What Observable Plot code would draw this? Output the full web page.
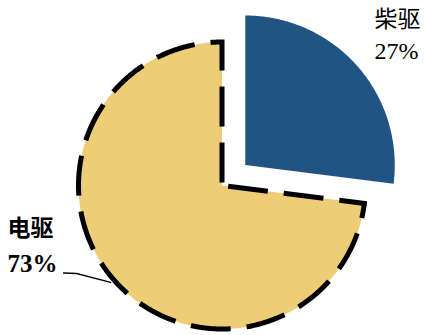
<!DOCTYPE html>
<html>
<head>
<meta charset="utf-8">
<script src="https://cdn.jsdelivr.net/npm/d3@7"></script>
<script src="https://cdn.jsdelivr.net/npm/@observablehq/plot@0.6"></script>
<style>
  html, body { margin: 0; padding: 0; background: #fff; }
  #chart svg { display: block; }
</style>
</head>
<body>
<div id="chart"></div>
<script>
// ---- data ----
const categories = ["柴驱", "电驱"];
const shares = [27, 73];
const pctLabels = ["27%", "73%"];
const colors = ["#215482", "#EDCD76"];

// ---- layout ----
const W = 424, H = 335;
const cx = 221.5, cy = 185;
const radii = [149.5, 143.5];
const explode = [31, 0];
const labelPos = [
  {x: 374, y1: 26.5, y2: 58.5, weight: "normal", anchor: "start"},
  {x: 7, y1: 235, y2: 271.5, weight: "bold", anchor: "start"}
];
const font = "'Liberation Serif', 'Times New Roman', 'Noto Sans CJK SC', serif";

const arcs = d3.pie().sort(null).value(d => d)(shares);

function pt(ox, oy, r, a) {
  return {x: ox + r * Math.sin(a), y: oy - r * Math.cos(a)};
}

const slices = arcs.map((a, i) => {
  const mid = (a.startAngle + a.endAngle) / 2;
  const ox = cx + explode[i] * Math.sin(mid);
  const oy = cy - explode[i] * Math.cos(mid);
  const pts = [{x: ox, y: oy}];
  const n = Math.max(2, Math.ceil((a.endAngle - a.startAngle) / (Math.PI / 360)));
  for (let k = 0; k <= n; k++) {
    const ang = a.endAngle - (a.endAngle - a.startAngle) * k / n;
    pts.push(pt(ox, oy, radii[i], ang));
  }
  pts.push({x: ox, y: oy});
  return pts;
});

// leader line from the 电驱 label to its slice edge
const leadAngle = (229 / 180) * Math.PI;
const leadEnd = pt(cx, cy, radii[1] + 4, leadAngle);
const leader = [
  {x: labelPos[1].x + 56, y: labelPos[1].y2 + 1},
  {x: labelPos[1].x + 69, y: labelPos[1].y2 + 1.5},
  leadEnd
];

const nameText = categories.map((c, i) => ({t: c, x: labelPos[i].x, y: labelPos[i].y1}));
const pctText = pctLabels.map((c, i) => ({t: c, x: labelPos[i].x, y: labelPos[i].y2}));

const chart = Plot.plot({
  width: W,
  height: H,
  margin: 0,
  x: {domain: [0, W], range: [0, W], axis: null},
  y: {domain: [0, H], range: [0, H], axis: null},
  marks: [
    Plot.line(slices[0], {x: "x", y: "y", fill: colors[0], stroke: "none", curve: "linear"}),
    Plot.line(slices[1], {
      x: "x", y: "y", fill: colors[1], stroke: "#000", strokeWidth: 5,
      strokeDasharray: "40,16", strokeDashoffset: 53,
      strokeLinecap: "butt", strokeLinejoin: "miter", strokeMiterlimit: 4, curve: "linear"
    }),
    Plot.line(leader, {x: "x", y: "y", stroke: "#000", strokeWidth: 1.3, curve: "linear"}),
    Plot.text([nameText[0]], {x: "x", y: "y", text: "t", textAnchor: "start", lineAnchor: "bottom",
      fontSize: 23, fontFamily: font, fill: "#000"}),
    Plot.text([pctText[0]], {x: "x", y: "y", text: "t", textAnchor: "start", lineAnchor: "bottom",
      fontSize: 24, fontFamily: font, fill: "#000"}),
    Plot.text([nameText[1]], {x: "x", y: "y", text: "t", textAnchor: "start", lineAnchor: "bottom",
      fontSize: 23, fontWeight: "bold", fontFamily: font, fill: "#000"}),
    Plot.text([pctText[1]], {x: "x", y: "y", text: "t", textAnchor: "start", lineAnchor: "bottom",
      fontSize: 25, fontWeight: "bold", fontFamily: font, fill: "#000"})
  ]
});
document.getElementById("chart").appendChild(chart);
</script>
</body>
</html>
